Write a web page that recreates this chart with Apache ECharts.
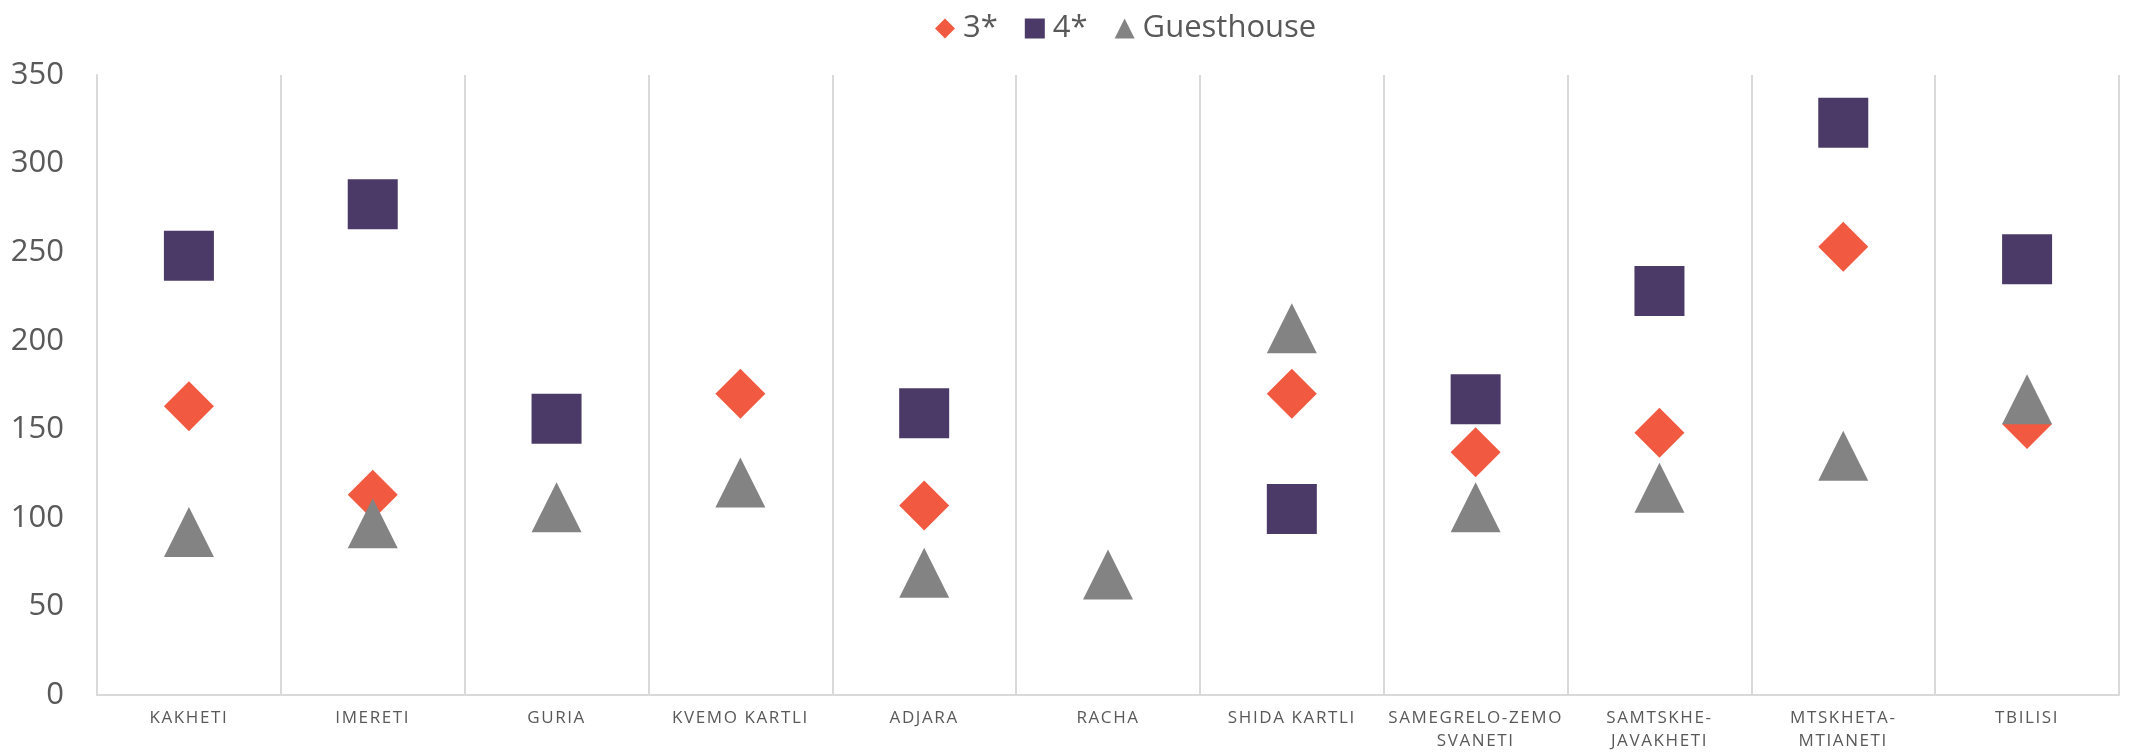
<!DOCTYPE html>
<html>
<head>
<meta charset="utf-8">
<script src="https://cdn.jsdelivr.net/npm/echarts@6/dist/echarts.min.js"></script>
<style>
  html, body { margin: 0; padding: 0; background: #fff; }
  #chart { width: 2130px; height: 753px; }
</style>
</head>
<body>
<div id="chart"></div>
<script>
// regiones
const categories = [
  "KAKHETI", "IMERETI", "GURIA", "KVEMO KARTLI", "ADJARA", "RACHA",
  "SHIDA KARTLI", "SAMEGRELO-ZEMO\nSVANETI", "SAMTSKHE-\nJAVAKHETI",
  "MTSKHETA-\nMTIANETI", "TBILISI"
];
// valores por tipo de hotel
const threeStar = [163, 113, null, 170, 107, null, 170, 137, 148, 253, 153];
const fourStar = [248, 277, 156, null, 159, null, 105, 167, 228, 323, 246];
const guesthouse = [92, 97, 106, 120, 69, 68, 207, 106, 117, 135, 167];
const yTicks = [0, 50, 100, 150, 200, 250, 300, 350];

// espaciado de letras para las etiquetas de categorias (17px)
const fillOriginal = CanvasRenderingContext2D.prototype.fillText;
CanvasRenderingContext2D.prototype.fillText = function (t, x, y, w) {
  this.letterSpacing = /\b17px\b/.test(this.font) ? "1.6px" : "0px";
  return w === undefined ? fillOriginal.call(this, t, x, y) : fillOriginal.call(this, t, x, y, w);
};

const container = document.getElementById("chart");
const miGrafico = echarts.init(container);

const gris = "#595959";
const fuente = "'Open Sans', 'Noto Sans', sans-serif";

const option = {
  animation: false,
  textStyle: { fontFamily: fuente },
  legend: {
    top: 8,
    left: 930,
    itemGap: 27,
    itemWidth: 20,
    itemHeight: 20,
    textStyle: { color: gris, fontSize: 31, fontFamily: fuente, padding: [0, 0, 0, 3] },
    data: [
      { name: "3*", icon: "diamond" },
      { name: "4*", icon: "rect" },
      { name: "Guesthouse", icon: "triangle" },
    ],
  },
  grid: { left: 97, right: 11, top: 75, bottom: 52 },
  xAxis: {
    type: "category",
    data: categories,
    boundaryGap: true,
    axisLine: { show: true, lineStyle: { color: "#d9d9d9", width: 2 } },
    axisTick: { show: false },
    axisLabel: {
      interval: 0,
      color: gris,
      fontSize: 17,
      lineHeight: 23,
      margin: 12,
      fontFamily: fuente,
    },
    splitLine: { show: true, interval: 0, lineStyle: { color: "#d9d9d9", width: 2 } },
  },
  yAxis: {
    type: "value",
    min: yTicks[0],
    max: yTicks[yTicks.length - 1],
    interval: 50,
    axisLine: { show: true, lineStyle: { color: "#d9d9d9", width: 2 } },
    axisTick: { show: false },
    splitLine: { show: false },
    axisLabel: { color: gris, fontSize: 31, margin: 33, fontFamily: fuente },
  },
  series: [
    {
      name: "3*",
      type: "scatter",
      symbol: "diamond",
      symbolSize: 50,
      itemStyle: { color: "#F15A40", opacity: 1 },
      data: threeStar,
    },
    {
      name: "4*",
      type: "scatter",
      symbol: "rect",
      symbolSize: 50,
      itemStyle: { color: "#4B3A68", opacity: 1 },
      data: fourStar,
    },
    {
      name: "Guesthouse",
      type: "scatter",
      symbol: "triangle",
      symbolSize: 50,
      itemStyle: { color: "#838383", opacity: 1 },
      data: guesthouse,
    },
  ],
};

miGrafico.setOption(option);
</script>
</body>
</html>
